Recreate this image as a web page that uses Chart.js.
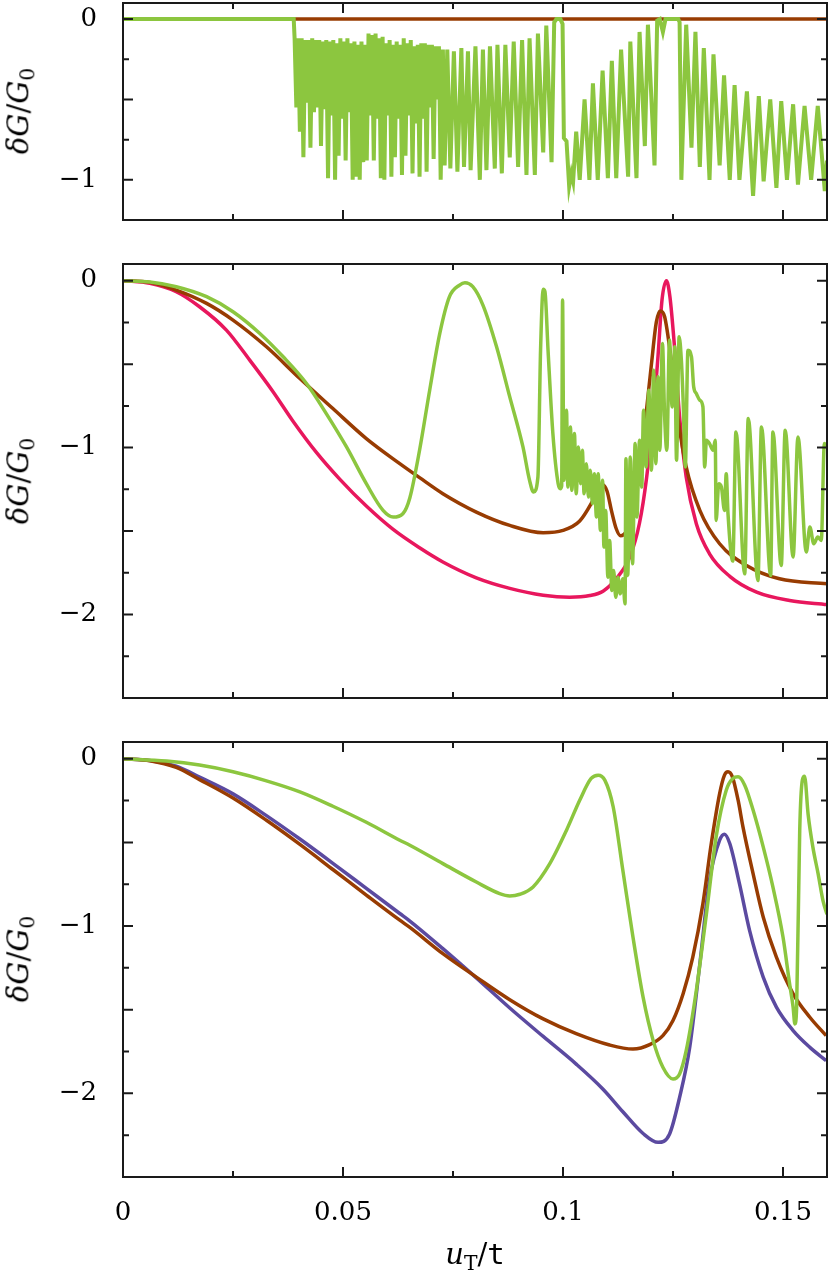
<!DOCTYPE html>
<html>
<head>
<meta charset="utf-8">
<title>dG/G0 vs uT/t</title>
<script src="https://cdn.jsdelivr.net/npm/chart.js@4.4.1/dist/chart.umd.min.js"></script>
<style>
  body { margin: 0; background: #fff; }
  #wrap { position: relative; width: 829px; height: 1283px; overflow: hidden; }
  canvas { position: absolute; left: 0; }
  .ytitle, .xtitle {
    position: absolute;
    font-family: "DejaVu Serif", serif;
    font-size: 29px;
    line-height: 1;
    color: #000;
    white-space: nowrap;
  }
  .ytitle { left: 21px; transform: translate(-50%, -50%) rotate(-90deg); }
  .xtitle { left: 475px; top: 1257px; transform: translate(-50%, -50%); }
  sub { font-size: 0.7em; vertical-align: -0.3em; font-style: normal; }
  .tt { font-family: "DejaVu Sans Mono", monospace; }
</style>
</head>
<body>
<div id="wrap">
  <canvas id="top" width="829" height="232" style="top:0"></canvas>
  <canvas id="middle" width="829" height="460" style="top:250px"></canvas>
  <canvas id="bottom" width="829" height="553" style="top:730px"></canvas>
  <div class="ytitle" style="top:111px"><i>δG</i>/<i>G</i><sub>0</sub></div>
  <div class="ytitle" style="top:481px"><i>δG</i>/<i>G</i><sub>0</sub></div>
  <div class="ytitle" style="top:959px"><i>δG</i>/<i>G</i><sub>0</sub></div>
  <div class="xtitle"><i>u</i><sub>T</sub>/<span class="tt">t</span></div>
</div>
<script>
// Axis ticks
const xTickValues = [0, 0.025, 0.05, 0.075, 0.1, 0.125, 0.15];
const xMajorTicks = [0, 0.05, 0.1, 0.15];
const xTickLabels = ['0', '0.05', '0.1', '0.15'];
const yTicksTop = [-1, -0.75, -0.5, -0.25, 0];
const yTicksTall = [-2.5, -2.25, -2, -1.75, -1.5, -1.25, -1, -0.75, -0.5, -0.25, 0];
const yMajorTicks = [-2.5, -2, -1.5, -1, -0.5, 0];
const yLabelValues = [-2, -1, 0];
const yLabelTexts = ['\u22122', '\u22121', '0'];

// Colours
const GREEN = '#8cc63f';
const BROWN = '#983c02';
const PINK = '#e8175d';
const PURPLE = '#5b4aa0';

// Top panel [x, y]
const p1Brown = [[0, 0], [0.16, 0]];
const p1Green = [
  [0, 0], [0.0388, 0],
  [0.0390, -0.12], [0.0394, -0.55], [0.0398, -0.12], [0.0402, -0.70], [0.0406, -0.12], [0.0410, -0.86],
  [0.0414, -0.13], [0.0418, -0.52], [0.0422, -0.13], [0.0426, -0.80], [0.0430, -0.12], [0.0434, -0.58],
  [0.0438, -0.13], [0.0442, -0.55], [0.0446, -0.13], [0.0450, -0.79], [0.0454, -0.14], [0.0458, -0.56],
  [0.0462, -0.13], [0.0466, -0.99], [0.0470, -0.14], [0.0474, -0.60], [0.0478, -0.13], [0.0482, -1.00],
  [0.0486, -0.15], [0.0490, -0.85], [0.0494, -0.12], [0.0498, -0.62], [0.0502, -0.14], [0.0506, -0.88],
  [0.0510, -0.12], [0.0514, -0.58], [0.0518, -0.15], [0.0522, -1.00], [0.0526, -0.14], [0.0530, -0.98],
  [0.0534, -0.16], [0.0538, -1.00], [0.0542, -0.14], [0.0546, -0.89], [0.0550, -0.16], [0.0554, -0.88],
  [0.0558, -0.09], [0.0562, -0.60], [0.0566, -0.10], [0.0570, -0.88], [0.0574, -0.09], [0.0578, -0.62],
  [0.0582, -0.12], [0.0586, -0.99], [0.0590, -0.11], [0.0594, -1.00], [0.0598, -0.15], [0.0602, -0.60],
  [0.0606, -0.13], [0.0610, -0.98], [0.0614, -0.16], [0.0618, -0.86], [0.0622, -0.14], [0.0626, -0.62],
  [0.0630, -0.16], [0.0634, -0.97], [0.0638, -0.12], [0.0642, -0.85], [0.0646, -0.15], [0.0650, -0.60],
  [0.0654, -0.13], [0.0658, -0.96], [0.0662, -0.17], [0.0666, -0.65], [0.0670, -0.16], [0.0674, -0.98],
  [0.0678, -0.15], [0.0682, -0.62], [0.0686, -0.15], [0.0690, -0.95], [0.0694, -0.16], [0.0698, -0.55],
  [0.0702, -0.16], [0.0706, -0.87], [0.0710, -0.17], [0.0714, -0.50], [0.0718, -0.17], [0.0722, -1.00],
  [0.0727, -0.19], [0.0731, -0.91], [0.0737, -0.19], [0.0744, -0.93], [0.0752, -0.20], [0.0760, -0.95],
  [0.0769, -0.18], [0.0775, -0.92], [0.0784, -0.20], [0.0790, -0.94], [0.0801, -0.17], [0.0811, -1.00],
  [0.0818, -0.19], [0.0826, -0.94], [0.0834, -0.17], [0.0845, -0.93], [0.0851, -0.16], [0.0861, -0.96],
  [0.0869, -0.16], [0.0879, -0.86], [0.0888, -0.14], [0.0898, -0.92], [0.0907, -0.13], [0.0917, -0.97],
  [0.0924, -0.12], [0.0936, -0.97], [0.0943, -0.09], [0.0955, -0.83], [0.0962, -0.04], [0.0974, -0.89],
  [0.0980, -0.02], [0.0985, 0], [0.0994, 0], [0.0999, -0.03], [0.1002, -0.74], [0.1008, -0.76],
  [0.1014, -1.04], [0.1019, -0.96], [0.1023, -1.01], [0.1030, -0.70], [0.1038, -1.00], [0.1049, -0.50],
  [0.1060, -1.00], [0.1068, -0.40], [0.1079, -1.00], [0.1090, -0.32], [0.1102, -0.99], [0.1111, -0.26],
  [0.1121, -0.99], [0.1132, -0.19], [0.1148, -0.98], [0.1153, -0.14], [0.1167, -0.99], [0.1174, -0.08],
  [0.1186, -0.79], [0.1193, -0.035], [0.1208, -0.91], [0.1214, -0.01], [0.1220, 0], [0.1227, -0.08],
  [0.1233, 0], [0.1262, 0], [0.1265, -0.02], [0.1269, -1.00], [0.1280, -0.035], [0.1292, -0.80],
  [0.1301, -0.08], [0.1311, -0.92], [0.1320, -0.18], [0.1333, -1.00], [0.1342, -0.22], [0.1356, -0.91],
  [0.1366, -0.35], [0.1379, -1.00], [0.1390, -0.41], [0.1401, -1.00], [0.1418, -0.45], [0.1432, -1.10],
  [0.1445, -0.48], [0.1456, -1.01], [0.1471, -0.50], [0.1485, -1.05], [0.1496, -0.51], [0.1509, -1.00],
  [0.1523, -0.53], [0.1534, -1.03], [0.1549, -0.54], [0.1564, -1.00], [0.1579, -0.54], [0.1595, -1.07],
  [0.1600, -0.88]
];

// Middle panel
const p2Pink = [
  [0, 0], [0.0061, -0.016], [0.0121, -0.066], [0.0174, -0.156], [0.0235, -0.296], [0.0288, -0.476],
  [0.0341, -0.665], [0.0386, -0.84], [0.044, -1.03], [0.0493, -1.19], [0.0553, -1.35], [0.0614, -1.49],
  [0.0674, -1.60], [0.0727, -1.685], [0.0803, -1.78], [0.0879, -1.843], [0.0955, -1.884], [0.1015, -1.896],
  [0.1061, -1.886], [0.1091, -1.86], [0.1121, -1.785], [0.1152, -1.655], [0.1174, -1.45], [0.119, -1.18],
  [0.1205, -0.81], [0.1216, -0.45], [0.1225, -0.116], [0.1235, 0], [0.1243, -0.096], [0.1254, -0.416],
  [0.1265, -0.816], [0.128, -1.176], [0.1303, -1.456], [0.1333, -1.636], [0.1379, -1.771], [0.144, -1.866],
  [0.1515, -1.916], [0.16, -1.94]
];
const p2Brown = [
  [0, 0], [0.0061, -0.01], [0.0121, -0.056], [0.019, -0.136], [0.025, -0.236], [0.0326, -0.396],
  [0.0402, -0.586], [0.0477, -0.766], [0.0553, -0.946], [0.0629, -1.096], [0.0674, -1.18], [0.0727, -1.276],
  [0.0803, -1.386], [0.0879, -1.466], [0.0955, -1.51], [0.1, -1.496], [0.1038, -1.44], [0.1064, -1.336],
  [0.108, -1.25], [0.109, -1.222], [0.11, -1.26], [0.111, -1.376], [0.1121, -1.486], [0.1131, -1.528],
  [0.1144, -1.50], [0.1155, -1.416], [0.1167, -1.246], [0.1178, -1.056], [0.119, -0.77], [0.1201, -0.50],
  [0.1212, -0.25], [0.1221, -0.182], [0.1231, -0.216], [0.1246, -0.476], [0.1261, -0.816], [0.128, -1.116],
  [0.1311, -1.376], [0.1356, -1.576], [0.1417, -1.706], [0.1492, -1.786], [0.16, -1.816]
];
const p2Green = [
  [0, 0], [0.0061, -0.008], [0.0121, -0.036], [0.019, -0.096], [0.025, -0.186], [0.0311, -0.316],
  [0.0364, -0.456], [0.0417, -0.616], [0.0462, -0.796], [0.0508, -0.996], [0.0553, -1.216], [0.0591, -1.376],
  [0.0614, -1.416], [0.0636, -1.396], [0.0652, -1.30], [0.0674, -1.016], [0.0697, -0.656], [0.072, -0.316],
  [0.0742, -0.096], [0.0765, -0.026], [0.0777, -0.012], [0.0795, -0.036], [0.0818, -0.146], [0.0849, -0.396],
  [0.0879, -0.696], [0.0909, -0.996], [0.0924, -1.196], [0.0933, -1.266], [0.0943, -1.176], [0.0949, -0.416],
  [0.0955, -0.052], [0.0959, -0.066], [0.0966, -0.416], [0.0977, -0.916], [0.0989, -1.216], [0.0994, -1.246],
  [0.0997, -1.23], [0.0999, -0.116], [0.1002, -1.196], [0.1008, -0.776], [0.1011, -1.236], [0.1017, -0.876],
  [0.102, -1.256], [0.1026, -0.916], [0.103, -1.276], [0.1035, -0.996], [0.104, -1.216], [0.1044, -1.016],
  [0.1048, -1.276], [0.1053, -1.096], [0.1058, -1.296], [0.1062, -1.136], [0.1067, -1.336], [0.1071, -1.156],
  [0.1076, -1.416], [0.108, -1.156], [0.1085, -1.496], [0.109, -1.196], [0.1093, -1.596], [0.1097, -1.376],
  [0.1102, -1.776], [0.1106, -1.556], [0.1111, -1.856], [0.1115, -1.736], [0.112, -1.896], [0.1125, -1.776],
  [0.113, -1.876], [0.1136, -1.786], [0.1141, -1.936], [0.1143, -1.066], [0.1147, -1.766], [0.1153, -1.056],
  [0.1158, -1.696], [0.1164, -0.976], [0.1168, -1.416], [0.1174, -0.956], [0.1179, -1.236], [0.1183, -0.776],
  [0.1189, -1.116], [0.1195, -0.656], [0.1201, -1.136], [0.1206, -0.536], [0.1211, -1.096], [0.1216, -0.576],
  [0.122, -1.016], [0.1226, -0.376], [0.1231, -0.816], [0.1236, -1.016], [0.1242, -0.356], [0.1248, -0.756],
  [0.1254, -0.396], [0.1258, -1.076], [0.1264, -0.336], [0.1269, -0.476], [0.1273, -0.716], [0.1278, -1.116],
  [0.1284, -0.416], [0.1292, -0.456], [0.1297, -0.636], [0.1303, -0.676], [0.1311, -0.716], [0.1318, -0.756],
  [0.1322, -1.116], [0.1326, -0.956], [0.1333, -0.976], [0.1341, -1.016], [0.1346, -0.956], [0.1348, -1.436],
  [0.1354, -1.216], [0.136, -1.236], [0.1367, -1.376], [0.1371, -1.156], [0.1375, -1.396], [0.1386, -1.68],
  [0.1393, -0.906], [0.1413, -1.756], [0.1421, -0.826], [0.1443, -1.796], [0.1451, -0.876], [0.1472, -1.766],
  [0.1477, -0.906], [0.1496, -1.706], [0.1505, -0.896], [0.1523, -1.656], [0.1534, -0.936], [0.1553, -1.626],
  [0.1561, -1.476], [0.157, -1.576], [0.1579, -1.536], [0.1587, -1.556], [0.1594, -0.976], [0.16, -1.0]
];

// Bottom panel
const p3Purple = [
  [0, 0], [0.0061, -0.01], [0.0121, -0.045], [0.0174, -0.11], [0.025, -0.21], [0.0326, -0.34],
  [0.0402, -0.48], [0.0477, -0.625], [0.0553, -0.775], [0.0629, -0.925], [0.0652, -0.97], [0.0727, -1.135],
  [0.0803, -1.31], [0.0879, -1.49], [0.0955, -1.66], [0.103, -1.825], [0.1091, -1.975], [0.1136, -2.11],
  [0.1182, -2.24], [0.1216, -2.293], [0.1242, -2.244], [0.1265, -2.024], [0.1288, -1.725], [0.1311, -1.226],
  [0.1333, -0.727], [0.1356, -0.487], [0.1367, -0.451], [0.1379, -0.507], [0.1401, -0.747], [0.1424, -1.026],
  [0.1455, -1.305], [0.1485, -1.485], [0.1523, -1.625], [0.1561, -1.725], [0.1598, -1.804]
];
const p3Brown = [
  [0, 0], [0.0061, -0.012], [0.0121, -0.052], [0.0174, -0.125], [0.025, -0.235], [0.0326, -0.368],
  [0.0402, -0.512], [0.0477, -0.662], [0.0553, -0.815], [0.0629, -0.965], [0.0652, -1.008], [0.0727, -1.165],
  [0.0803, -1.305], [0.0879, -1.44], [0.0955, -1.555], [0.103, -1.643], [0.1106, -1.711], [0.1159, -1.735],
  [0.1197, -1.709], [0.1227, -1.655], [0.125, -1.565], [0.1273, -1.405], [0.1295, -1.186], [0.1318, -0.866],
  [0.1337, -0.507], [0.1356, -0.208], [0.1367, -0.098], [0.1375, -0.078], [0.1385, -0.108], [0.1398, -0.248],
  [0.1409, -0.407], [0.1432, -0.687], [0.1455, -0.946], [0.1485, -1.186], [0.1523, -1.405], [0.1561, -1.545],
  [0.1598, -1.655]
];
const p3Green = [
  [0, 0], [0.0099, -0.014], [0.0174, -0.038], [0.025, -0.078], [0.0326, -0.132], [0.0402, -0.198],
  [0.0477, -0.284], [0.0553, -0.38], [0.0629, -0.487], [0.0652, -0.517], [0.0727, -0.627], [0.0803, -0.737],
  [0.0856, -0.806], [0.0879, -0.82], [0.0902, -0.81], [0.0932, -0.766], [0.097, -0.627], [0.1008, -0.427],
  [0.1038, -0.248], [0.1064, -0.118], [0.108, -0.098], [0.1095, -0.128], [0.1114, -0.287], [0.1136, -0.667],
  [0.1159, -1.066], [0.1182, -1.425], [0.1205, -1.685], [0.1227, -1.844], [0.125, -1.914], [0.1265, -1.884],
  [0.128, -1.745], [0.1303, -1.385], [0.1326, -0.926], [0.1348, -0.467], [0.1371, -0.188], [0.1386, -0.118],
  [0.1398, -0.108], [0.1413, -0.158], [0.1432, -0.307], [0.1455, -0.527], [0.1477, -0.766], [0.15, -1.066],
  [0.1515, -1.345], [0.1523, -1.485], [0.1527, -1.585], [0.1531, -1.485], [0.1538, -0.427], [0.1544, -0.128],
  [0.1549, -0.104], [0.1557, -0.33], [0.1568, -0.53], [0.158, -0.69], [0.1591, -0.85], [0.16, -0.93]
];

function lineSet(pairs, color, width, smooth) {
  return {
    data: pairs.map(([x, y]) => ({ x, y })),
    borderColor: color,
    borderWidth: width,
    pointRadius: 0,
    fill: false,
    tension: 0,
    cubicInterpolationMode: smooth ? 'monotone' : 'default'
  };
}

// Box with inward ticks on all four sides
const frameTicks = {
  id: 'frameTicks',
  afterDatasetsDraw(chart) {
    const { ctx, chartArea: a, scales: { x, y } } = chart;
    ctx.save();
    ctx.strokeStyle = '#1a1a1a';
    ctx.lineWidth = 2;
    ctx.beginPath();
    xTickValues.forEach(v => {
      const px = x.getPixelForValue(v);
      const len = xMajorTicks.includes(v) ? 10 : 6;
      ctx.moveTo(px, a.bottom);
      ctx.lineTo(px, a.bottom - len);
      ctx.moveTo(px, a.top);
      ctx.lineTo(px, a.top + len);
    });
    y.ticks.forEach(t => {
      const py = y.getPixelForValue(t.value);
      const len = yMajorTicks.includes(t.value) ? 10 : 6;
      ctx.moveTo(a.left, py);
      ctx.lineTo(a.left + len, py);
      ctx.moveTo(a.right, py);
      ctx.lineTo(a.right - len, py);
    });
    ctx.stroke();
    ctx.strokeRect(a.left, a.top, a.right - a.left, a.bottom - a.top);
    ctx.restore();
  }
};

function makePanel(id, datasets, yMin, yTicks, padding, showX) {
  return new Chart(document.getElementById(id), {
    type: 'line',
    data: { datasets },
    plugins: [frameTicks],
    options: {
      responsive: false,
      animation: false,
      events: [],
      layout: { padding },
      plugins: { legend: { display: false }, tooltip: { enabled: false } },
      scales: {
        x: {
          type: 'linear',
          min: 0,
          max: 0.16,
          display: showX,
          grid: { display: false, drawTicks: false },
          border: { display: false },
          afterBuildTicks: scale => { scale.ticks = xTickValues.map(value => ({ value })); },
          afterFit: scale => {
            scale.height = showX ? 106 : 0;
            scale.paddingLeft = 0;
            scale.paddingRight = 0;
          },
          ticks: {
            autoSkip: false,
            maxRotation: 0,
            padding: 21,
            color: '#000',
            font: { family: 'DejaVu Serif', size: 26 },
            callback: value => {
              const i = xMajorTicks.indexOf(value);
              return i >= 0 ? xTickLabels[i] : '';
            }
          }
        },
        y: {
          type: 'linear',
          min: yMin,
          max: 0.1,
          grid: { display: false, drawTicks: false },
          border: { display: false },
          afterBuildTicks: scale => { scale.ticks = yTicks.map(value => ({ value })); },
          afterFit: scale => {
            scale.width = 123;
            scale.paddingTop = 0;
            scale.paddingBottom = 0;
          },
          ticks: {
            autoSkip: false,
            padding: 26,
            color: '#000',
            font: { family: 'DejaVu Serif', size: 26 },
            callback: value => {
              const i = yLabelValues.indexOf(value);
              return i >= 0 ? yLabelTexts[i] : '';
            }
          }
        }
      }
    }
  });
}

makePanel('top', [
  lineSet(p1Green, GREEN, 4, false),
  lineSet(p1Brown, BROWN, 3.5, false)
], -1.25, yTicksTop, { top: 3, right: 2, bottom: 12, left: 0 }, false);

makePanel('middle', [
  lineSet(p2Green, GREEN, 3.5, true),
  lineSet(p2Brown, BROWN, 3.5, true),
  lineSet(p2Pink, PINK, 3.5, true)
], -2.5, yTicksTall, { top: 14, right: 2, bottom: 12, left: 0 }, false);

makePanel('bottom', [
  lineSet(p3Green, GREEN, 3.5, true),
  lineSet(p3Brown, BROWN, 3.5, true),
  lineSet(p3Purple, PURPLE, 3.5, true)
], -2.5, yTicksTall, { top: 12, right: 2, bottom: 0, left: 0 }, true);
</script>
</body>
</html>
